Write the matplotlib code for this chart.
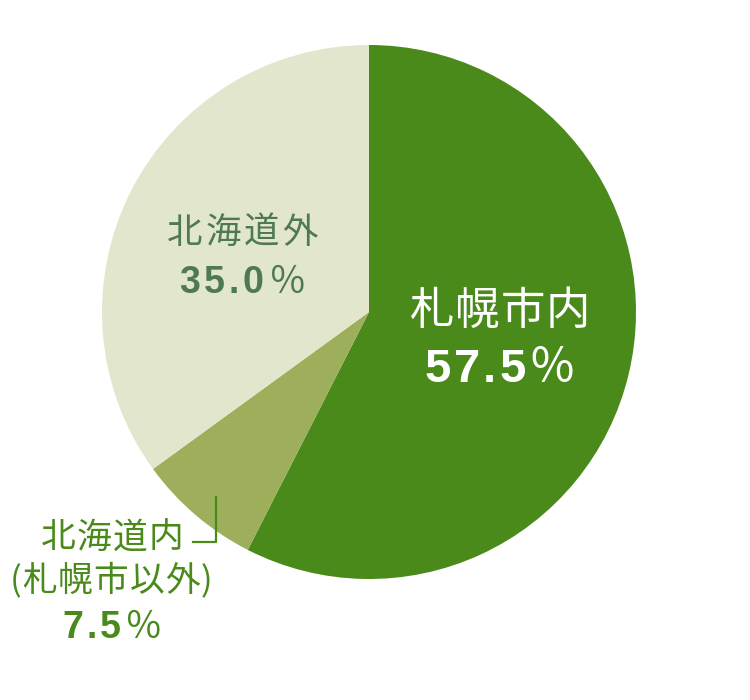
import matplotlib
matplotlib.use("Agg")
import matplotlib.pyplot as plt

# slice data, clockwise from 12 o'clock
labels = ["札幌市内", "北海道内(札幌市以外)", "北海道外"]
shares = [57.5, 7.5, 35.0]
colors = ["#4a8a1a", "#9daf5a", "#e1e6cd"]
pct_text = ["57.5", "7.5", "35.0"]

W, H = 750, 700
cx, cy, r = 369, 312, 267

fig = plt.figure(figsize=(W / 100, H / 100), dpi=100)
ax = fig.add_axes([0, 0, 1, 1])
ax.pie(shares, colors=colors, startangle=90, counterclock=False,
       center=(cx, H - cy), radius=r, frame=True,
       wedgeprops=dict(linewidth=0))
ax.set_xlim(0, W)
ax.set_ylim(0, H)
ax.set_aspect("equal")
ax.axis("off")

renderer = fig.canvas.get_renderer()
jp = "Noto Sans CJK JP"
num = "Liberation Sans"


def row(chars, x_mid, y, gap, va, **kw):
    """place characters one by one with extra tracking, centred on x_mid"""
    ts = []
    for ch, extra in chars:
        props = dict(kw)
        props.update(extra)
        ts.append(ax.text(0, H - y, ch, ha="left", va=va, **props))
    ws = [t.get_window_extent(renderer).width for t in ts]
    x = x_mid - (sum(ws) + gap * (len(ts) - 1)) / 2
    for t, w in zip(ts, ws):
        t.set_x(x)
        x += w + gap


def label(text, x_mid, y, size, gap, color):
    row([(c, {}) for c in text], x_mid, y, gap, "center",
        family=jp, fontsize=size, color=color)


def percent(value, x_mid, base, size, gap, color):
    chars = [(c, dict(family=num, fontweight="bold")) for c in value]
    chars.append(("％", dict(family=jp, fontsize=size * 1.0)))
    row(chars, x_mid, base, gap, "baseline", fontsize=size, color=color)


# 札幌市内
label(labels[0], 500, 311, 32, 1, "white")
percent(pct_text[0], 500, 382, 34, 3, "white")

# 北海道外
label(labels[2], 242, 233, 25.5, 3, "#4f7a4f")
percent(pct_text[2], 242, 293, 27, 4, "#4f7a4f")

# 北海道内 (札幌市以外)
inner = "#4a8a1a"
label("北海道内", 112, 538, 25, 1, inner)
label("(札幌市以外)", 111, 582, 25, 1, inner)
percent(pct_text[1], 112, 638, 27, 3, inner)
ax.plot([193, 216, 216], [H - 542, H - 542, H - 497], color=inner, lw=1.6)

fig.savefig("out.png", dpi=100)
